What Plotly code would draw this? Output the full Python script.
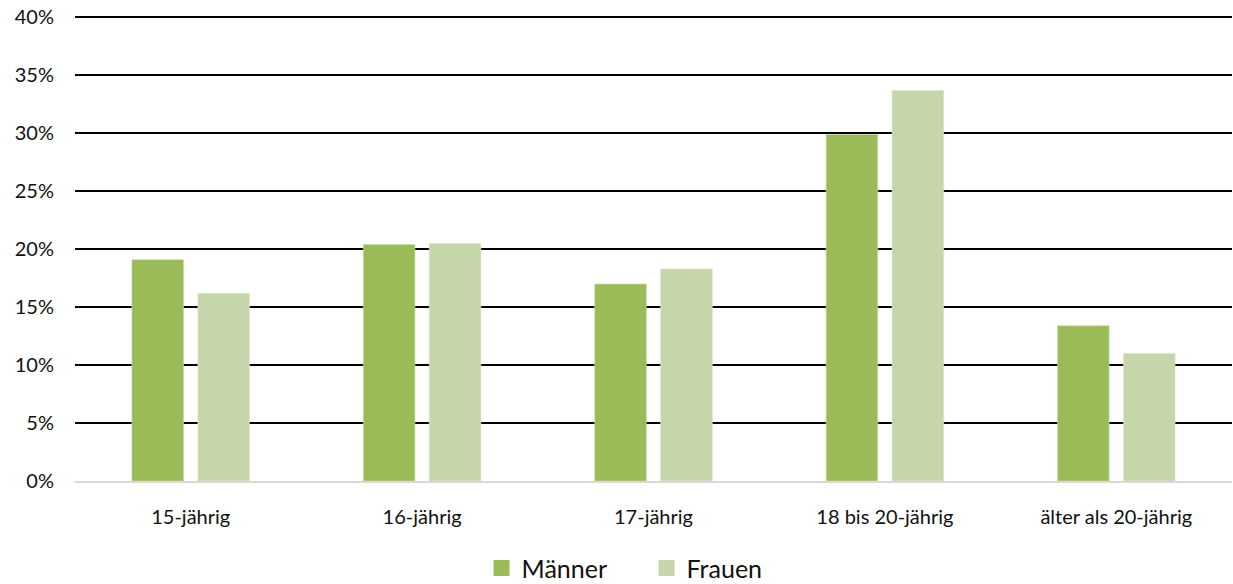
import plotly.graph_objects as go

categories = ["15-jährig", "16-jährig", "17-jährig", "18 bis 20-jährig", "älter als 20-jährig"]
maenner = [19.1, 20.4, 17.0, 29.9, 13.4]
frauen = [16.2, 20.5, 18.3, 33.7, 11.0]
y_ticks = [0, 5, 10, 15, 20, 25, 30, 35, 40]
y_labels = [f"{v}%" for v in y_ticks]

FONT = "Lato, Carlito, Calibri, sans-serif"
GREEN = "#9BBB59"
LIGHT = "#C6D6AB"

fig = go.Figure()
fig.add_trace(go.Bar(name="Männer", x=categories, y=maenner, showlegend=False,
                     marker=dict(color=GREEN, line=dict(color="#C9DBAE", width=0.6))))
fig.add_trace(go.Bar(name="Frauen", x=categories, y=frauen, showlegend=False,
                     marker=dict(color=LIGHT, line=dict(color="#DCE7CB", width=0.6))))

# legend entries with larger square swatches
for name, col in (("Männer", GREEN), ("Frauen", LIGHT)):
    fig.add_trace(go.Scatter(name=name, x=[categories[0]], y=[None], mode="markers",
                             marker=dict(symbol="square", size=18, color=col),
                             showlegend=True, hoverinfo="skip"))

fig.update_layout(
    width=1233, height=584,
    margin=dict(l=75, r=1, t=14, b=103, autoexpand=False),
    paper_bgcolor="white", plot_bgcolor="white",
    barmode="group", bargap=0.43, bargroupgap=0.217,
    font=dict(family=FONT, size=20, color="#111111"),
    showlegend=True,
    legend=dict(orientation="h", x=0.494, xanchor="center", yref="container",
                y=0.027, yanchor="middle", entrywidth=120, entrywidthmode="pixels",
                font=dict(size=25, family=FONT), itemwidth=30, traceorder="normal"),
    xaxis=dict(showgrid=False, showline=True, linecolor="#D9D9D9", linewidth=1.5,
               ticks="", tickfont=dict(size=20), ticklabelstandoff=17),
    yaxis=dict(range=[0, 40.3], tickvals=y_ticks, ticktext=y_labels,
               showgrid=True, gridcolor="#000000", gridwidth=1.6,
               zeroline=False, showline=False, ticks="",
               ticklabelstandoff=20, tickfont=dict(size=20)),
)

fig.write_html("out.html")
